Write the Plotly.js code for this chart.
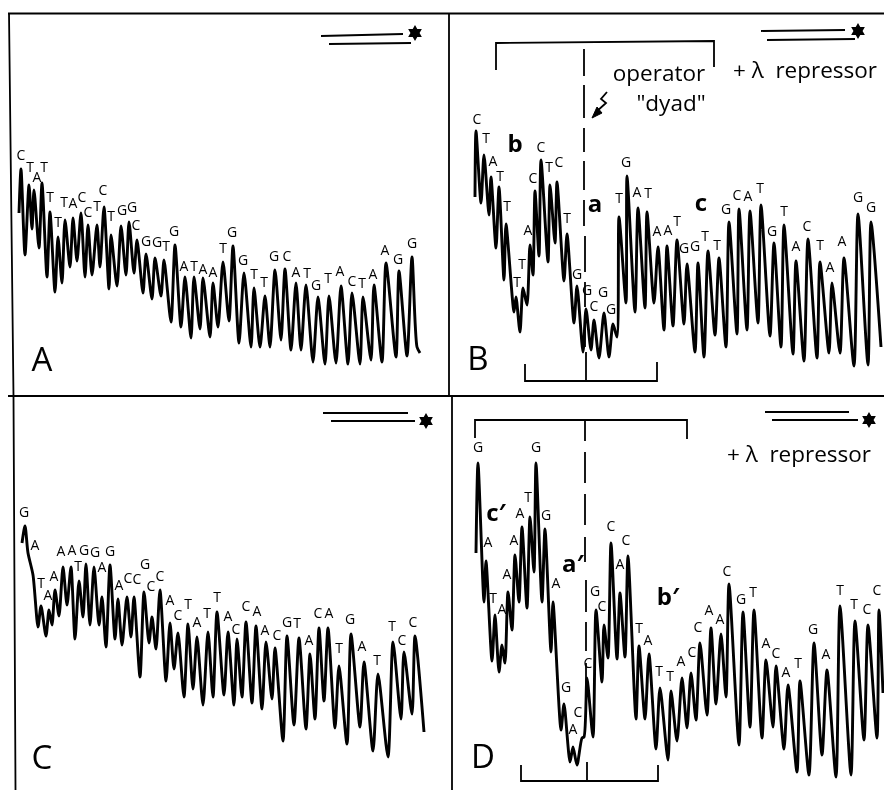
<!DOCTYPE html>
<html><head><meta charset="utf-8">
<script src="https://cdn.plot.ly/plotly-3.0.1.min.js"></script>
<style>html,body{margin:0;padding:0;background:#fff}#c{width:884px;height:790px;will-change:transform;opacity:.999}</style>
</head><body><div id="c"></div>
<script>
// Densitometer traces (scan position, signal height on the sheet)
const traceA_x=[19,21,25,29,32,34,39,42,47,50,55,58,62,65,70,73,77,81,85,88,92,97,100,104,109,111,117,121,126,129,134,137,143,146,152,155,161,164,171,175,181,185,191,194,200,203,210,213,218,223,229,233,239,244,251,254,260,265,270,275,281,285,291,296,301,306,313,318,325,329,336,341,348,352,360,363,371,374,382,386,396,399,407,412,417,420];
const traceA_y=[213,169,255,185,229,190,248,183,277,212,292,237,283,220,267,218,261,213,277,225,275,225,267,207,289,235,286,226,275,222,273,240,293,254,299,258,296,260,322,245,327,277,338,277,329,278,337,283,327,262,321,246,343,273,347,288,347,296,347,270,340,269,350,283,350,285,362,297,364,296,363,286,364,293,364,297,360,285,362,263,357,271,356,257,347,353];
const traceB_x=[475,476,481,484,489,491,496,499,504,506,514,516,520,523,527,530,533,535,539,541,548,550,555,557,564,567,574,577,583,586,591,594,599,604,609,613,617,619,626,627,635,638,645,647,654,658,664,667,673,677,684,687,695,698,704,708,715,719,726,729,737,739,747,750,758,761,770,774,781,784,793,796,804,808,817,820,829,832,840,844,854,858,868,871,881];
const traceB_y=[197,131,203,155,215,177,248,187,280,224,312,297,332,288,305,245,275,191,256,160,262,185,243,182,281,234,323,286,352,309,350,320,358,313,357,324,337,217,303,176,312,208,308,212,303,247,330,246,326,240,324,264,352,263,357,251,335,258,347,222,334,209,330,211,323,205,336,243,347,225,354,261,361,239,358,262,353,283,353,258,366,214,365,222,347];
const traceC_x=[22,25,28,33,38,41,46,49,52,55,59,63,67,71,75,79,83,86,90,94,99,102,106,110,115,118,122,127,131,134,140,144,149,152,156,160,166,170,174,178,184,188,193,197,203,208,213,217,224,228,234,237,242,246,252,256,262,266,272,275,283,287,294,299,306,310,315,319,324,328,335,339,347,351,360,364,373,378,388,393,401,404,412,415,424];
const traceC_y=[543,526,553,575,627,606,636,610,625,590,616,567,605,567,639,581,617,564,625,567,625,597,647,565,639,599,645,597,637,597,677,592,643,617,649,590,681,623,669,633,697,624,689,637,705,632,697,612,695,632,705,639,697,622,703,626,709,642,699,648,741,636,725,638,729,654,719,628,701,628,728,666,744,634,727,662,751,674,757,642,719,652,714,636,732];
const traceD_x=[476,478,484,486,492,495,499,502,505,508,512,515,519,522,527,530,534,536,542,545,551,553,561,564,570,573,577,582,584,587,593,596,602,604,608,611,617,620,625,628,636,639,645,649,656,660,668,671,677,682,687,691,696,700,707,711,716,721,726,729,739,743,750,754,762,766,773,776,784,788,797,800,809,814,822,827,836,840,851,855,864,868,877,879,883];
const traceD_y=[553,463,602,561,661,615,672,645,663,592,630,555,602,527,608,517,572,463,602,529,652,602,730,704,762,747,765,738,737,678,737,610,682,625,658,543,659,593,657,556,719,646,719,654,749,688,760,691,741,678,728,673,720,643,715,628,704,634,697,584,745,612,727,610,738,660,727,666,749,685,772,681,775,643,755,670,777,606,775,621,740,625,738,610,693];

// Base-call labels
const labelA_text=["C","T","A","T","T","T","T","A","C","C","T","C","T","G","G","C","G","G","T","G","A","T","A","A","T","G","G","T","T","G","C","A","T","G","T","A","C","T","A","A","G","G"];
const labelA_x=[21,30,37,44,50,58,64,73,82,88,97,103,111,122,132,136,146,157,166,174,184,194,203,213,223,232,243,254,264,274,287,296,307,316,328,340,352,362,373,385,398,412];
const labelA_y=[156,168,178,168,198,223,203,204,198,213,207,191,217,211,208,226,242,243,247,232,267,267,270,273,249,233,261,275,283,257,257,273,274,286,279,272,282,284,275,251,260,244];
const labelB_text=["C","T","A","T","T","T","T","A","C","C","T","C","T","G","G","C","G","G","T","G","A","T","A","A","T","G","G","T","T","G","C","A","T","G","T","A","C","T","A","A","G","G"];
const labelB_x=[477,486,493,500,507,517,522,528,533,541,549,559,567,577,587,594,603,611,619,626,637,648,657,668,677,684,695,705,717,726,737,748,760,772,784,796,807,820,830,842,858,871];
const labelB_y=[120,139,162,177,207,283,265,231,179,148,168,163,219,275,291,307,293,310,199,163,193,194,232,231,222,249,247,237,246,210,196,197,189,232,212,247,227,246,268,242,198,208];
const labelC_text=["G","A","T","A","A","A","A","T","G","G","A","G","A","C","C","G","C","C","A","C","T","A","T","T","A","C","C","A","A","C","G","T","A","C","A","T","G","A","T","T","C","C"];
const labelC_x=[24,35,41,48,54,61,72,78,84,95,102,110,119,128,137,145,151,160,170,178,188,197,207,217,228,236,246,257,265,277,287,297,309,318,329,339,350,362,377,392,402,413];
const labelC_y=[513,546,584,596,577,552,551,567,551,553,568,552,586,579,580,565,587,577,601,616,605,623,614,598,617,630,607,612,631,636,623,624,641,614,614,649,620,647,661,627,641,623];
const labelD_text=["G","A","T","A","A","A","A","T","G","G","A","G","A","C","C","G","C","C","A","C","T","A","T","T","A","C","C","A","A","C","G","T","A","C","A","T","G","A","T","T","C","C"];
const labelD_x=[478,488,493,502,507,514,520,528,536,546,556,566,573,578,588,595,602,611,620,626,639,648,659,670,681,692,698,709,720,727,741,753,766,776,786,798,813,826,840,854,867,877];
const labelD_y=[448,543,599,610,575,541,514,498,448,516,584,688,730,713,664,592,607,527,565,541,629,641,672,677,662,653,628,611,620,572,600,593,644,654,673,664,630,655,591,605,610,591];

// Region names, panel letters and remarks
const regionText=["b","a","c","c′","a′","b′"];
const regionX=[515,595,701,496,573,668];
const regionY=[146,206,205,515,566,599];
const panelText=["A","B","C","D"];
const panelX=[42,478,42,483];
const panelY=[363,362,761,760];
const noteText=["operator","\"dyad\"","+ λ  repressor","+ λ  repressor"];
const noteX=[659,671,805,799];
const noteY=[75,105,72,456];

// Rules, brackets and strand marks
const ruleSegments=[
 [[8,884],[13.5,13.5]],[[8,884],[396,396]],
 [[9,13.5,15.5],[13,396,790]],[[449,449],[14,396]],[[452,452],[396,790]],
 [[321,403],[36,34]],[[329,411],[44,43]],[[761,845],[31,30]],[[767,855],[40,39]],
 [[323,408],[413,413]],[[331,415],[421,421]],[[765,849],[412,412]],[[772,858],[420,420]],
 [[496,496,714,714],[70,43,41,67]],[[525,525,657,657],[364,381,381,362]],[[586,586],[352,381]],
 [[475,475,687,687],[438,420,420,439]],[[521,521,658,658],[765,781,781,765]],[[587,587],[762,781]],
 [[607,601,606,596],[92,99,103,112]],
 [[584,584],[49,76]],[[584,584],[85,118]],[[584,584],[128,152]],[[584,584],[161,190]],[[584,584],[200,226]],[[585,585],[236,272]],[[585,585],[282,307]],[[585,585],[318,347]],
 [[585,585],[420,441]],[[585,585],[452,483]],[[585,585],[494,525]],[[585,585],[537,562]],[[586,586],[580,612]],[[586,586],[622,651]],[[586,586],[663,692]]
];
const starX=[415,858,426,869];
const starY=[33,31,421,420];
const arrowHeadX=[592,597,602,592];
const arrowHeadY=[118,107,113,118];

const data=[];
ruleSegments.forEach(s=>data.push({x:s[0],y:s[1],mode:'lines',line:{color:'#000',width:1.8},hoverinfo:'skip'}));
[[traceA_x,traceA_y],[traceB_x,traceB_y],[traceC_x,traceC_y],[traceD_x,traceD_y]].forEach(t=>
 data.push({x:t[0],y:t[1],mode:'lines',line:{color:'#000',width:2.9,shape:'spline',smoothing:0.7}}));
data.push({x:arrowHeadX,y:arrowHeadY,mode:'lines',fill:'toself',fillcolor:'#000',line:{color:'#000',width:1}});
data.push({x:starX,y:starY,mode:'markers',marker:{symbol:'hexagram',size:12,color:'#000'}});
const font='"Open Sans","Noto Sans",sans-serif';
const txt=(t,x,y,size)=>data.push({x:x,y:y,text:t,mode:'text',textposition:'middle center',textfont:{family:font,size:size,color:'#000'}});
[[labelA_text,labelA_x,labelA_y],[labelB_text,labelB_x,labelB_y],[labelC_text,labelC_x,labelC_y],[labelD_text,labelD_x,labelD_y]].forEach(l=>txt(l[0],l[1],l[2],14));
data.push({x:regionX,y:regionY,text:regionText,mode:'text',textposition:'middle center',textfont:{family:font,size:24,color:'#000',weight:700}});
txt(panelText,panelX,panelY,33);
txt(noteText,noteX,noteY,22.5);

Plotly.newPlot('c',data,{
 width:884,height:790,margin:{l:0,r:0,t:0,b:0},showlegend:false,
 paper_bgcolor:'#fff',plot_bgcolor:'#fff',
 xaxis:{range:[0,884],visible:false,fixedrange:true},
 yaxis:{range:[790,0],visible:false,fixedrange:true}
},{staticPlot:true,displayModeBar:false});
</script></body></html>
